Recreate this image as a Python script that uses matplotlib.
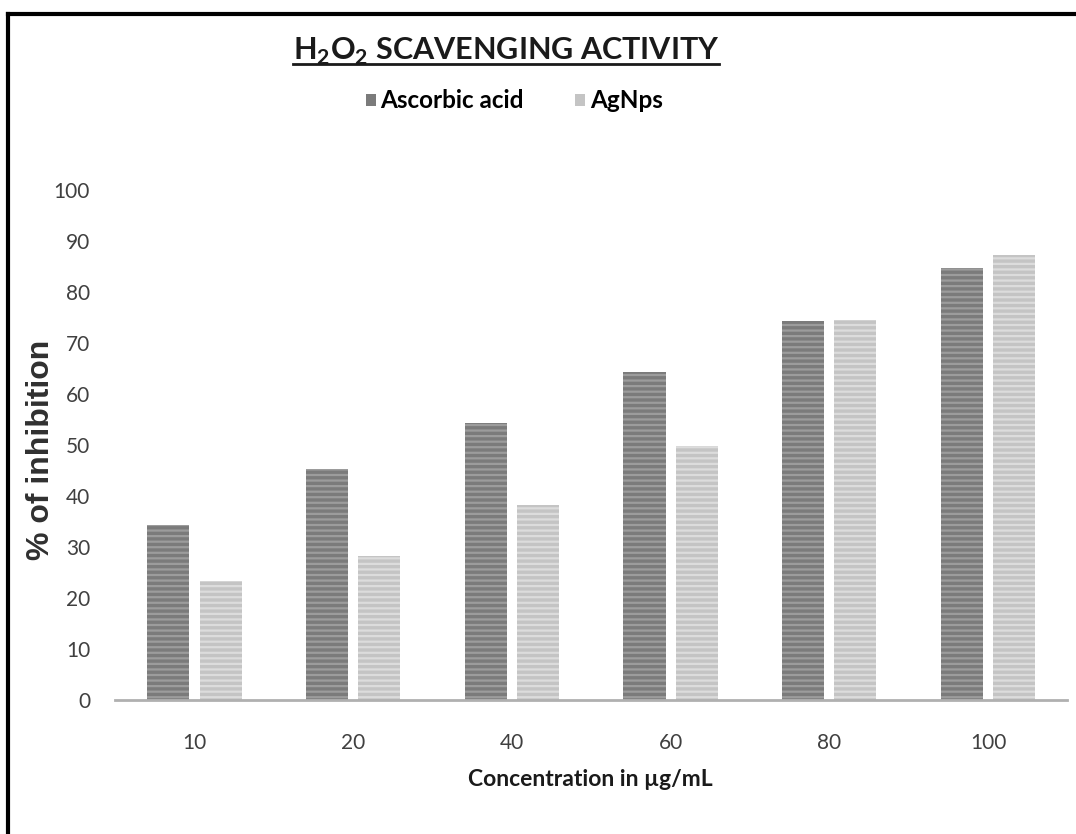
import matplotlib
matplotlib.use('Agg')
import matplotlib.pyplot as plt
import numpy as np
from matplotlib.lines import Line2D
from matplotlib.patches import Patch

# data
concentrations = ['10', '20', '40', '60', '80', '100']
ascorbic_acid = [34.3, 45.3, 54.3, 64.3, 74.4, 84.8]
agnps = [23.3, 28.2, 38.2, 49.8, 74.6, 87.2]
series_names = ['Ascorbic acid', 'AgNps']
y_ticks = [0, 10, 20, 30, 40, 50, 60, 70, 80, 90, 100]

plt.rcParams['font.family'] = ['Lato', 'DejaVu Sans']
plt.rcParams['mathtext.fontset'] = 'custom'
plt.rcParams['mathtext.rm'] = 'Lato'
plt.rcParams['mathtext.bf'] = 'Lato:bold'
plt.rcParams['hatch.linewidth'] = 1.6

dark_face, dark_stripe = '#7b7b7b', '#9c9c9c'
light_face, light_stripe = '#c4c4c4', '#dcdcdc'

fig = plt.figure(figsize=(10.76, 8.34), dpi=100, facecolor='w')
ax = fig.add_axes([0.107, 0.1607, 0.885, 0.6115])

x = np.arange(len(concentrations))
w = 0.265
off = w / 2 + 0.032
ax.bar(x - off, ascorbic_acid, w, color=dark_face, edgecolor=dark_stripe,
       linewidth=0, hatch='---')
ax.bar(x + off, agnps, w, color=light_face, edgecolor=light_stripe,
       linewidth=0, hatch='---')

ax.set_xlim(-0.5, len(concentrations) - 0.5)
ax.set_ylim(0, 100)
ax.set_yticks(y_ticks)
ax.set_xticks(x)
ax.set_xticklabels(concentrations)
ax.tick_params(axis='both', length=0, labelsize=15, labelcolor='#404040')
ax.tick_params(axis='y', pad=18)
ax.tick_params(axis='x', pad=24)
for s in ['top', 'right', 'left']:
    ax.spines[s].set_visible(False)
ax.spines['bottom'].set_color('#b0b0b0')
ax.spines['bottom'].set_linewidth(2)

# axis titles
fig.text(0.038, 0.46, '% of inhibition', rotation=90, ha='center', va='center',
         fontsize=23, fontweight='bold', family='Liberation Sans', color='#303030')
fig.text(0.549, 0.065, 'Concentration in µg/mL', ha='center', va='center',
         fontsize=16.5, fontweight='bold', color='#1a1a1a')

# title with underline
title = fig.text(0.47, 0.938, r'H$_\mathbf{2}$O$_\mathbf{2}$ SCAVENGING ACTIVITY',
                 ha='center', va='center', fontsize=22, fontweight='bold',
                 color='#1a1a1a')
fig.canvas.draw()
bb = title.get_window_extent().transformed(fig.transFigure.inverted())
fig.add_artist(Line2D([bb.x0, bb.x1], [bb.y0 + 0.004, bb.y0 + 0.004],
                      transform=fig.transFigure, color='#1a1a1a', lw=2))

# legend
handles = [Patch(facecolor=dark_face), Patch(facecolor=light_face)]
fig.legend(handles, series_names, loc='center', bbox_to_anchor=(0.478, 0.879),
           ncol=2, frameon=False, handlelength=0.4, handleheight=0.4,
           handletextpad=0.2, columnspacing=2.1,
           prop={'weight': 'bold', 'size': 17.5})

# frame lines on left and top
fig.add_artist(Line2D([0.0075, 0.0075], [0, 0.983], transform=fig.transFigure,
                      color='black', lw=3))
fig.add_artist(Line2D([0.0075, 1.0], [0.983, 0.983], transform=fig.transFigure,
                      color='black', lw=3))

plt.savefig('out.png', dpi=100, facecolor='w')
